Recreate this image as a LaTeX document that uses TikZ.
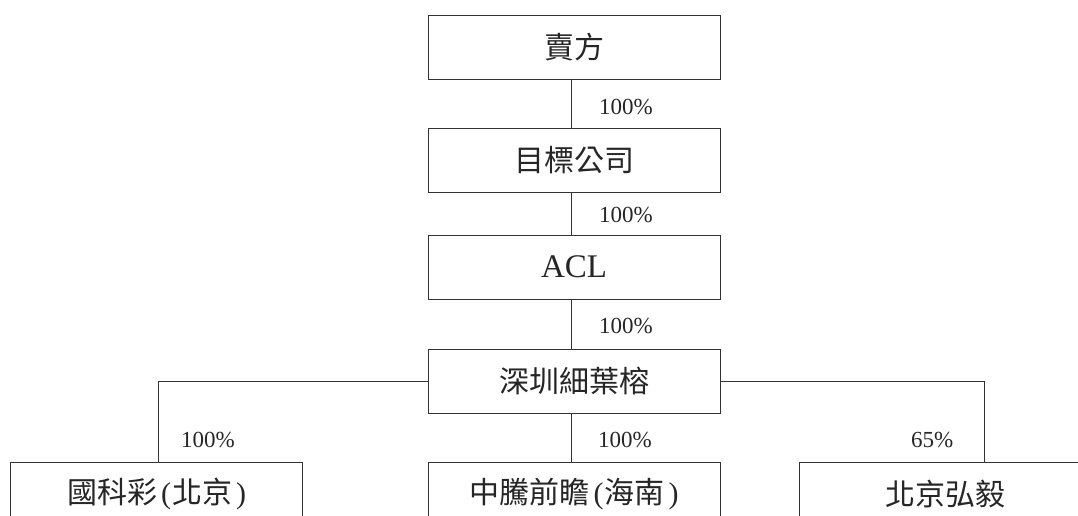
\documentclass[tikz,border=0pt]{standalone}
\usepackage{fontspec}
\setmainfont{Liberation Serif}
\newfontfamily\cjk{Noto Sans CJK TC}

\tikzset{
    entity/.style={draw=black!80, line width=1pt, minimum width=292pt, minimum height=64pt,
        inner sep=0pt, text=black!85, font=\cjk\fontsize{30}{30}\selectfont},
    share/.style={anchor=west, inner sep=0pt, text=black!85, font=\fontsize{23}{23}\selectfont},
    link/.style={draw=black!80, line width=1pt}
}
\newcommand{\lp}{\hspace{4pt}{\rmfamily(}\hspace{1pt}}
\newcommand{\rp}{\hspace{4pt}{\rmfamily)}}

\begin{document}
\begin{tikzpicture}[x=1pt,y=-1pt]
    \clip (0,0) rectangle (1078,515);

    \node[entity] (seller) at (574,47) {賣方};
    \node[entity] (target) at (574,160) {目標公司};
    \node[entity, font=\fontsize{33}{33}\selectfont] (acl) at (574,267) {ACL};
    \node[entity] (szxyr) at (574,381) {深圳細葉榕};

    \node[entity] (gkc) at (156.5,494) {國科彩\lp 北京\rp};
    \node[entity] (ztqz) at (574,494) {中騰前瞻\lp 海南\rp};
    \node[entity] (bjhy) at (945,494) {北京弘毅};

    \draw[link] ([xshift=-3pt]seller.south) -- ([xshift=-3pt]target.north);
    \draw[link] ([xshift=-3pt]target.south) -- ([xshift=-3pt]acl.north);
    \draw[link] ([xshift=-3pt]acl.south) -- ([xshift=-3pt]szxyr.north);
    \draw[link] ([xshift=-3pt]szxyr.south) -- ([xshift=-3pt]ztqz.north);
    \draw[link] (szxyr.west) -| ([xshift=1.5pt]gkc.north);
    \draw[link] (szxyr.east) -| ([xshift=39pt]bjhy.north);

    \node[share] (s1) at (599,107) {100\%};
    \node[share] (s2) at (599,215) {100\%};
    \node[share] (s3) at (599,326) {100\%};
    \node[share] (s4) at (181,440) {100\%};
    \node[share] (s5) at (598,440) {100\%};
    \node[share] (s6) at (911,440) {65\%};
\end{tikzpicture}
\end{document}
